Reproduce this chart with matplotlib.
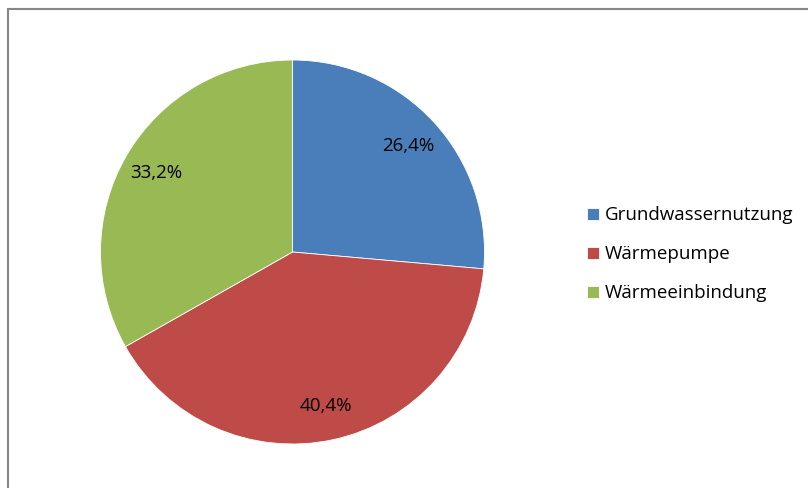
import matplotlib as mpl
import matplotlib.pyplot as plt
from matplotlib.patches import Rectangle

labels = ['Grundwassernutzung', 'Wärmepumpe', 'Wärmeeinbindung']
shares = [26.4, 40.4, 33.2]
colors = ['#4A7EBB', '#BE4B48', '#98B954']

mpl.rc('font', **{'family': 'Open Sans', 'size': 13.5})

W, H = 808, 488
fig = plt.figure(figsize=(W / 100, H / 100), dpi=100)

# frame, only left and top edges visible (rest runs off the image)
fig.patches.append(Rectangle((8 / W, -0.1), 1.2, (H - 9) / H + 0.1,
                             transform=fig.transFigure, fill=False,
                             edgecolor='#868686', lw=1.5))

ax = fig.add_axes([100.5 / W, 44 / H, 384 / W, 384 / H])
wedges, texts, autotexts = ax.pie(
    shares, colors=colors, startangle=90, counterclock=False,
    autopct=lambda p: ('%.1f%%' % p).replace('.', ','), pctdistance=0.82,
    wedgeprops=dict(edgecolor='white', linewidth=0.6),
    textprops=dict(fontsize=13.5, color='black'))
ax.set_xlim(-1, 1)
ax.set_ylim(-1, 1)
ax.set_aspect('equal')

leg = fig.legend(wedges, labels, loc='upper left',
                 bbox_to_anchor=(570 / W, 1 - 189.5 / H), frameon=False,
                 handlelength=0.62, handleheight=0.62, handletextpad=0.35,
                 labelspacing=1.12, fontsize=13.5)

plt.savefig('out.png', dpi=100)
